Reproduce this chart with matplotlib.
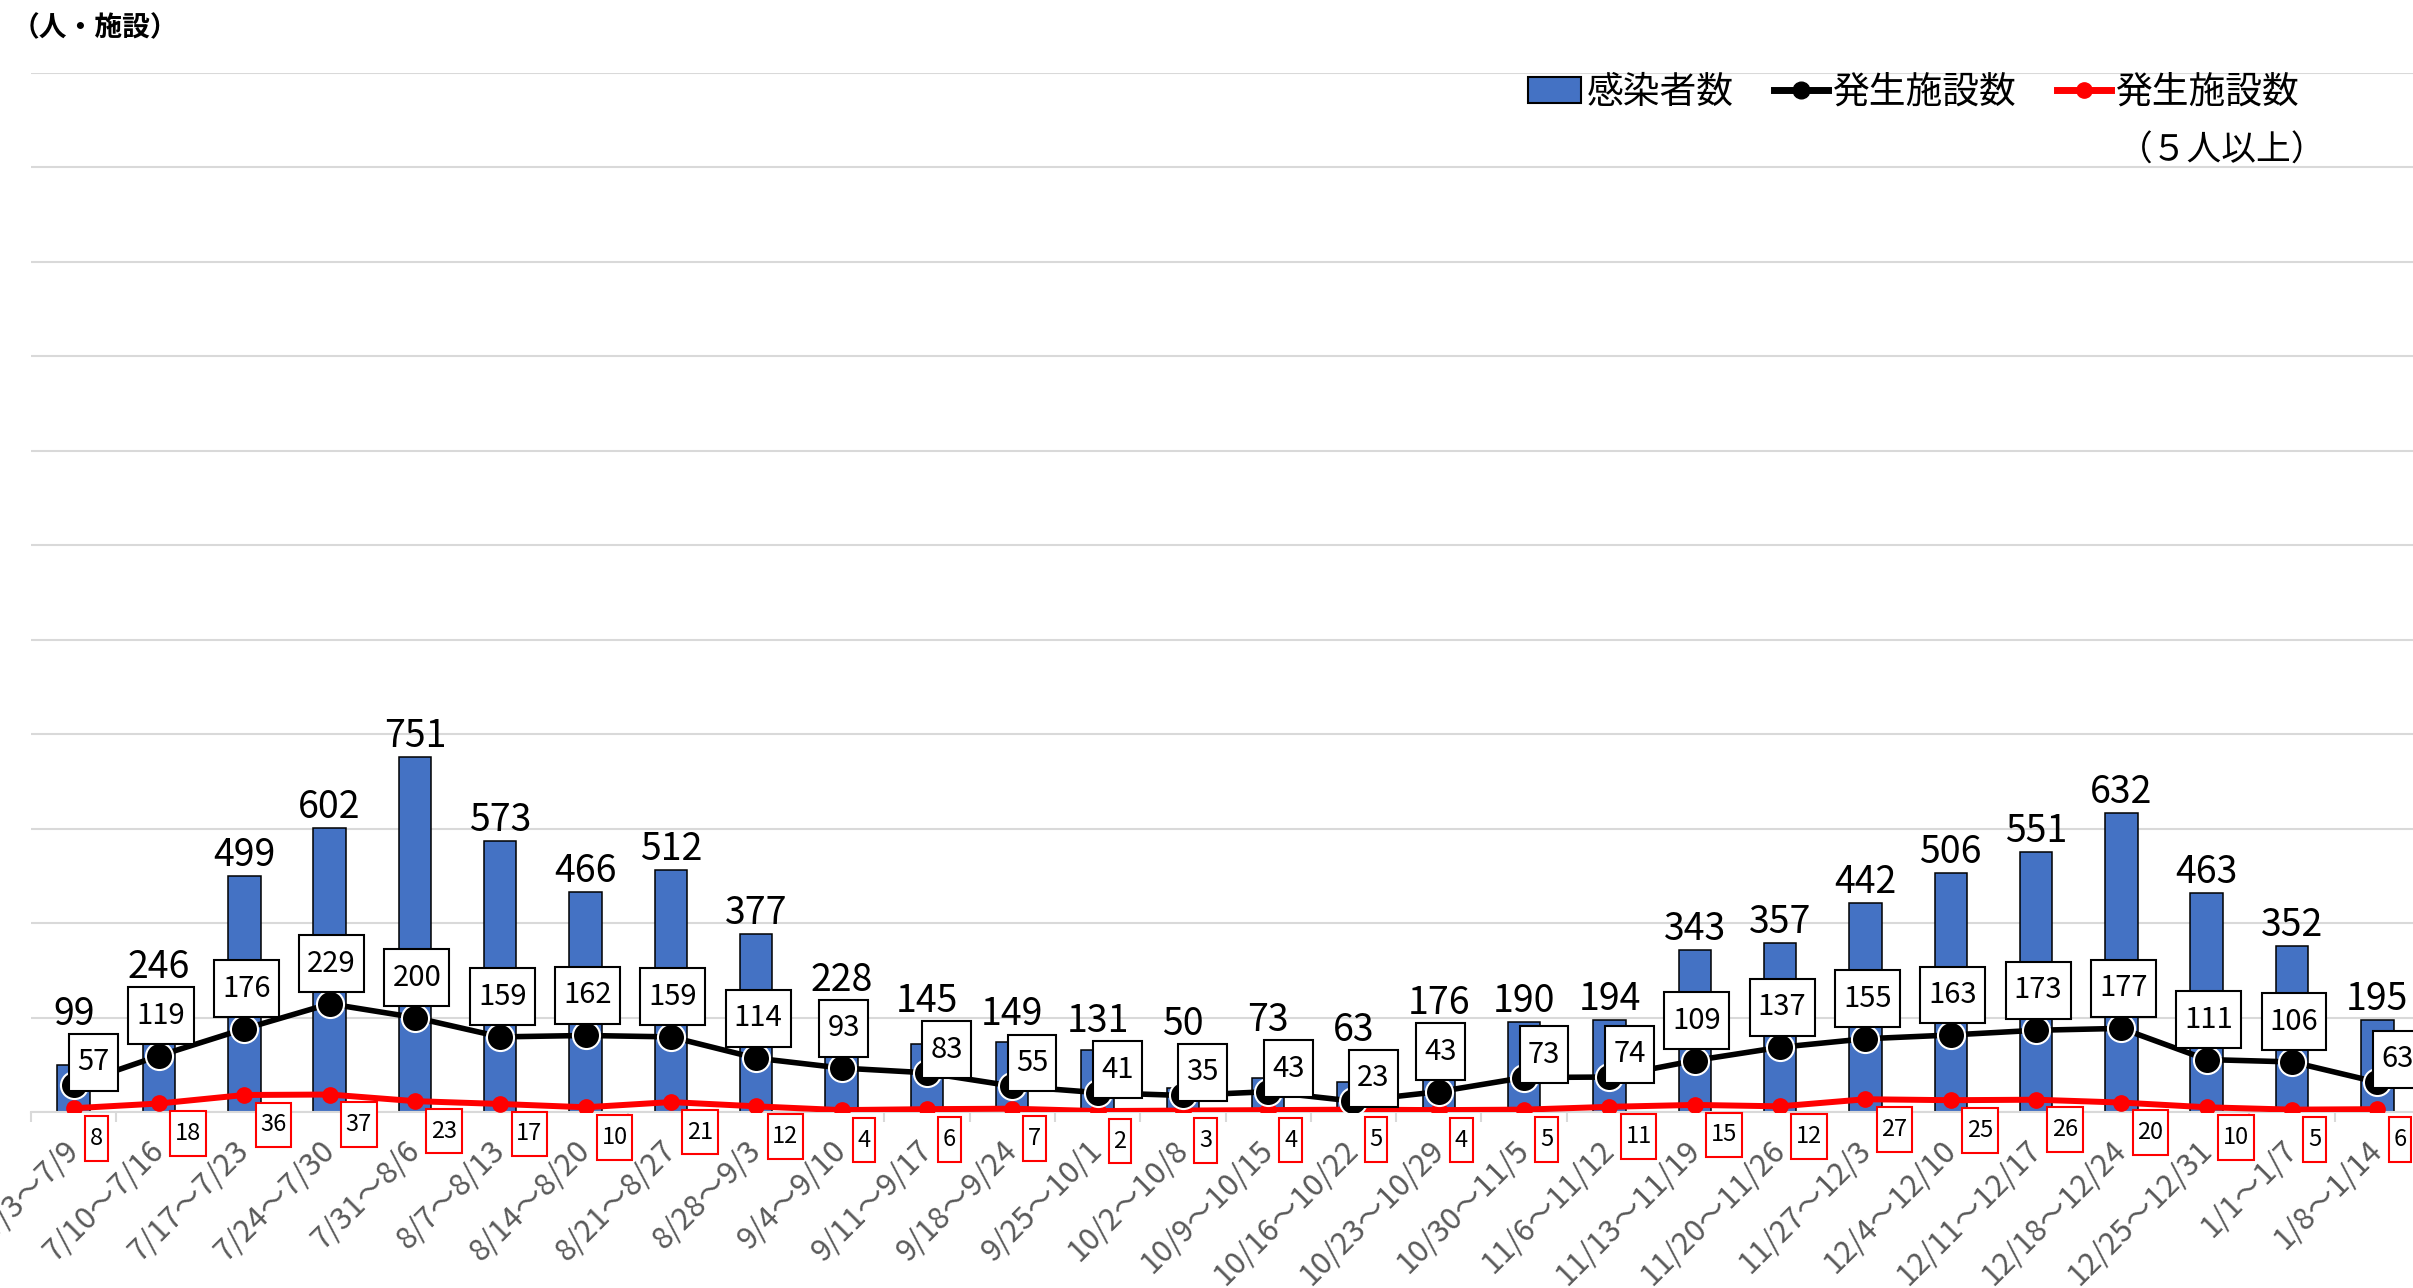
import matplotlib
matplotlib.use('Agg')
import matplotlib.pyplot as plt
from matplotlib.patches import Patch
from matplotlib.lines import Line2D

plt.rcParams['font.family'] = ['Noto Sans CJK JP', 'DejaVu Sans']

# 週ごとの集計
weeks = ['7/3～7/9', '7/10～7/16', '7/17～7/23', '7/24～7/30', '7/31～8/6',
         '8/7～8/13', '8/14～8/20', '8/21～8/27', '8/28～9/3', '9/4～9/10',
         '9/11～9/17', '9/18～9/24', '9/25～10/1', '10/2～10/8', '10/9～10/15',
         '10/16～10/22', '10/23～10/29', '10/30～11/5', '11/6～11/12',
         '11/13～11/19', '11/20～11/26', '11/27～12/3', '12/4～12/10',
         '12/11～12/17', '12/18～12/24', '12/25～12/31', '1/1～1/7', '1/8～1/14']
cases = [99, 246, 499, 602, 751, 573, 466, 512, 377, 228, 145, 149, 131, 50,
         73, 63, 176, 190, 194, 343, 357, 442, 506, 551, 632, 463, 352, 195]
facilities = [57, 119, 176, 229, 200, 159, 162, 159, 114, 93, 83, 55, 41, 35,
              43, 23, 43, 73, 74, 109, 137, 155, 163, 173, 177, 111, 106, 63]
facilities5 = [8, 18, 36, 37, 23, 17, 10, 21, 12, 4, 6, 7, 2, 3,
               4, 5, 4, 5, 11, 15, 12, 27, 25, 26, 20, 10, 5, 6]

# 右上にずらして置いているラベル
shifted = [0, 10, 11, 12, 13, 14, 15, 17, 18, 27]

W, H = 2413, 1288
fig = plt.figure(figsize=(W / 100, H / 100), dpi=100)
ax = fig.add_axes([31 / W, 176 / H, 2389 / W, 1039.3 / H])

x = list(range(len(weeks)))
ax.bar(x, cases, width=0.38, color='#4472C4', edgecolor='black', linewidth=1.1, zorder=2)
ax.plot(x, facilities5, color='red', lw=4.3, marker='o', ms=11, mec='red', zorder=3)
ax.plot(x, facilities, color='black', lw=4, marker='o', ms=19.5, mec='white', mew=1.5, zorder=4)

ax.set_xlim(-0.5, len(weeks) - 0.5)
ax.set_ylim(0, 2200)
ax.set_yticks(range(0, 2201, 200))
ax.yaxis.grid(True, color='#d9d9d9', lw=1.5)
ax.set_axisbelow(True)
ax.tick_params(axis='y', left=False, labelleft=False)
for s in ['left', 'right', 'top']:
    ax.spines[s].set_visible(False)
ax.spines['bottom'].set_color('#d9d9d9')
ax.spines['bottom'].set_linewidth(1.5)

ax.set_xticks(x)
ax.set_xticklabels(weeks, rotation=45, ha='right', va='center', rotation_mode='anchor',
                   fontsize=22, color='#595959')
ax.set_xticks([i - 0.5 for i in range(len(weeks) + 1)], minor=True)
ax.tick_params(axis='x', which='major', length=0, pad=24)
ax.tick_params(axis='x', which='minor', length=7, width=1.5, color='#d9d9d9')

for i in x:
    if i in shifted:
        off, top = (20, 23), 107
    else:
        off, top = (2, 40), 143
    ax.annotate(str(facilities[i]), (i, facilities[i]), xytext=off, textcoords='offset pixels',
                ha='center', va='center', fontsize=21, zorder=6,
                bbox=dict(boxstyle='square,pad=0.28', fc='white', ec='black', lw=1.5,
                          mutation_aspect=1.65))
    base = max(cases[i], facilities[i] + top)
    ax.annotate(str(cases[i]), (i, base), xytext=(0, 10), textcoords='offset pixels',
                ha='center', va='baseline', fontsize=27, zorder=6)
    ax.annotate(str(facilities5[i]), (i, facilities5[i]), xytext=(16, -30),
                textcoords='offset pixels', ha='left', va='center', fontsize=17, zorder=6,
                bbox=dict(boxstyle='square,pad=0.2', fc='white', ec='red', lw=1.5,
                          mutation_aspect=2.3))

handles = [Patch(facecolor='#4472C4', edgecolor='black', lw=1.5),
           Line2D([], [], color='black', lw=5, marker='o', ms=12),
           Line2D([], [], color='red', lw=5, marker='o', ms=11)]
fig.legend(handles, ['感染者数', '発生施設数', '発生施設数'], loc='center right',
           bbox_to_anchor=(2300 / W, 1 - 92 / H), ncol=3, frameon=False, fontsize=26.5,
           handlelength=1.45, handletextpad=0.15, columnspacing=1.1,
           borderpad=0, borderaxespad=0)
fig.text(2222 / W, 1 - 151 / H, '（５人以上）', ha='center', va='center', fontsize=25)
fig.text(12 / W, 1 - 28 / H, '（人・施設）', ha='left', va='center', fontsize=20,
         fontweight='bold')

fig.savefig('out.png', dpi=100)
